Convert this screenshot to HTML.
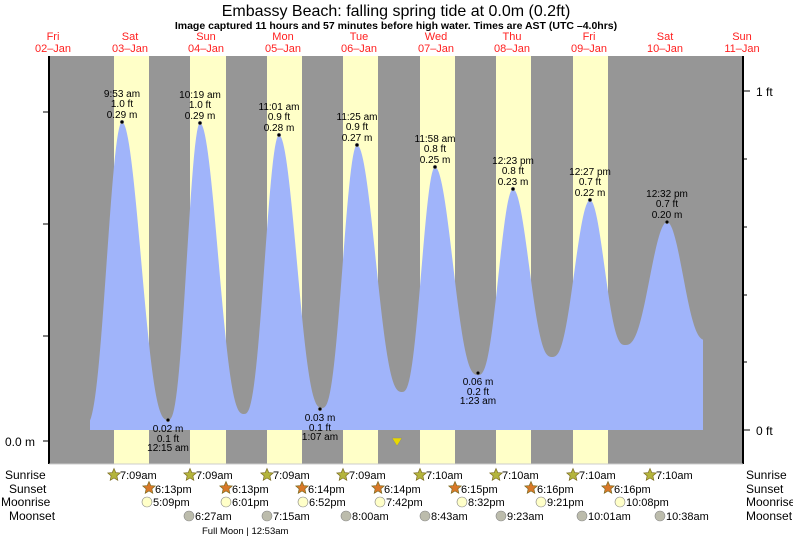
<!DOCTYPE html>
<html><head><meta charset="utf-8"><style>
body{margin:0;background:#fff}
svg{display:block;font-family:"Liberation Sans",sans-serif}
</style></head><body>
<svg id="s" width="793" height="537" viewBox="0 0 793 537">
<rect x="49" y="56" width="694" height="408" fill="#969696"/>
<g fill="#ffffc8">
<rect x="114" y="56" width="35" height="408"/><rect x="190" y="56" width="36" height="408"/>
<rect x="267" y="56" width="35" height="408"/><rect x="343" y="56" width="35" height="408"/>
<rect x="420" y="56" width="35" height="408"/><rect x="496" y="56" width="35" height="408"/>
<rect x="573" y="56" width="35" height="408"/>
</g>
<path id="w" fill="#a0b4fa" d=""/>
<line x1="49" y1="56" x2="49" y2="464" stroke="#000" stroke-width="2"/>
<line x1="743" y1="56" x2="743" y2="464" stroke="#000" stroke-width="2"/>
<line x1="49" y1="464" x2="743" y2="464" stroke="#ccc" stroke-width="1"/>
<line x1="43" y1="441" x2="49" y2="441" stroke="#000"/>
<line x1="43" y1="336" x2="49" y2="336" stroke="#000"/>
<line x1="43" y1="112" x2="49" y2="112" stroke="#000"/>
<line x1="43" y1="224" x2="49" y2="224" stroke="#000"/>
<g stroke="#000"><line x1="743" y1="91" x2="750" y2="91"/><line x1="743" y1="430" x2="750" y2="430"/>
<line x1="743" y1="159" x2="747" y2="159"/><line x1="743" y1="227" x2="747" y2="227"/><line x1="743" y1="295" x2="747" y2="295"/><line x1="743" y1="362" x2="747" y2="362"/></g>
<text x="5" y="446" font-size="12">0.0 m</text>
<text x="756" y="96" font-size="12">1 ft</text>
<text x="756" y="435" font-size="12">0 ft</text>
<text x="396" y="16" font-size="16" text-anchor="middle">Embassy Beach: falling  spring tide at 0.0m (0.2ft)</text>
<text x="396" y="29" font-size="10.5" font-weight="bold" text-anchor="middle">Image captured 11 hours and 57 minutes before high water. Times are AST (UTC –4.0hrs)</text>
<g fill="#ff2020" font-size="11" text-anchor="middle">
<text x="53" y="40">Fri</text><text x="53" y="52">02–Jan</text>
<text x="130" y="40">Sat</text><text x="130" y="52">03–Jan</text>
<text x="206" y="40">Sun</text><text x="206" y="52">04–Jan</text>
<text x="283" y="40">Mon</text><text x="283" y="52">05–Jan</text>
<text x="359" y="40">Tue</text><text x="359" y="52">06–Jan</text>
<text x="436" y="40">Wed</text><text x="436" y="52">07–Jan</text>
<text x="512" y="40">Thu</text><text x="512" y="52">08–Jan</text>
<text x="589" y="40">Fri</text><text x="589" y="52">09–Jan</text>
<text x="665" y="40">Sat</text><text x="665" y="52">10–Jan</text>
<text x="742" y="40">Sun</text><text x="742" y="52">11–Jan</text>
</g>
<g id="lab" font-size="10" text-anchor="middle" fill="#000"></g>
<polygon points="392,438 402,438 397,446" fill="#e8d800" stroke="#888" stroke-width="0.5"/>
<g font-size="12"><text x="5" y="479">Sunrise</text><text x="9" y="493">Sunset</text><text x="1" y="506">Moonrise</text><text x="9" y="520">Moonset</text>
<text x="746" y="479">Sunrise</text><text x="746" y="493">Sunset</text><text x="746" y="506">Moonrise</text><text x="746" y="520">Moonset</text></g>
<g id="ev" font-size="11"></g>
<text x="202" y="534" font-size="9.5">Full Moon | 12:53am</text>
</svg>
<script>
var E=[[85,425],[122,122],[168,420],[200,123],[244,414],[279,135],[322,408],[357,145],[402,392],[435,167],[478,375],[513,189],[552,357],[590,200],[625,345],[667,222],[706,340]];
var d="M90,430";
for(var x=90;x<=703;x++){for(var i=0;i<E.length-1;i++){if(x>=E[i][0]&&x<=E[i+1][0]){var t=(x-E[i][0])/(E[i+1][0]-E[i][0]);var c=(1-Math.cos(Math.PI*t))/2;var up=E[i+1][1]<E[i][1];var h=up?c:1-c;h=Math.pow(h,1.35);var hi=up?E[i+1][1]:E[i][1],lo=up?E[i][1]:E[i+1][1];var y=lo+(hi-lo)*h;d+=" L"+x+","+y.toFixed(1);break;}}}
d+=" L703,430 Z";document.getElementById("w").setAttribute("d",d);
var ns="http://www.w3.org/2000/svg";
function T(g,x,y,s,a){var e=document.createElementNS(ns,"text");e.setAttribute("x",x);e.setAttribute("y",y);if(a)e.setAttribute("text-anchor",a);e.textContent=s;g.appendChild(e);}
function C(g,x,y,r,f){var e=document.createElementNS(ns,"circle");e.setAttribute("cx",x);e.setAttribute("cy",y);e.setAttribute("r",r);e.setAttribute("fill",f);e.setAttribute("stroke","#888");e.setAttribute("stroke-width","0.6");g.appendChild(e);}
var L=document.getElementById("lab");
var H=[[122,122,"9:53 am","1.0 ft","0.29 m"],[200,123,"10:19 am","1.0 ft","0.29 m"],[279,135,"11:01 am","0.9 ft","0.28 m"],[357,145,"11:25 am","0.9 ft","0.27 m"],[435,167,"11:58 am","0.8 ft","0.25 m"],[513,189,"12:23 pm","0.8 ft","0.23 m"],[590,200,"12:27 pm","0.7 ft","0.22 m"],[667,222,"12:32 pm","0.7 ft","0.20 m"]];
H.forEach(function(h){C(L,h[0],h[1],1.8,"#000");T(L,h[0],h[1]-25,h[2]);T(L,h[0],h[1]-15,h[3]);T(L,h[0],h[1]-4,h[4]);});
[[168,420,"0.02 m","0.1 ft","12:15 am"],[320,409,"0.03 m","0.1 ft","1:07 am"],[478,373,"0.06 m","0.2 ft","1:23 am"]].forEach(function(h){C(L,h[0],h[1],1.8,"#000");T(L,h[0],h[1]+12,h[2]);T(L,h[0],h[1]+22,h[3]);T(L,h[0],h[1]+31,h[4]);});
var G=document.getElementById("ev");
function star(x,y,f){var p="";for(var k=0;k<10;k++){var r=k%2?3:6.5,a=-Math.PI/2+k*Math.PI/5;p+=(x+r*Math.cos(a)).toFixed(1)+","+(y+r*Math.sin(a)).toFixed(1)+" ";}var e=document.createElementNS(ns,"polygon");e.setAttribute("points",p);e.setAttribute("fill",f);e.setAttribute("stroke","#7a6a20");e.setAttribute("stroke-width","0.7");G.appendChild(e);}
[114,190,267,343,420,496,573,650].forEach(function(x,i){star(x,475,"#b4b43c");T(G,x+6,479,i<4?"7:09am":"7:10am");});
["6:13pm","6:13pm","6:14pm","6:14pm","6:15pm","6:16pm","6:16pm"].forEach(function(s,i){var x=[149,226,302,378,455,531,608][i];star(x,488,"#d87828");T(G,x+6,493,s);});
["5:09pm","6:01pm","6:52pm","7:42pm","8:32pm","9:21pm","10:08pm"].forEach(function(s,i){var x=[147,226,303,380,462,541,620][i];C(G,x,502,5,"#ffffc8");T(G,x+6,506,s);});
["6:27am","7:15am","8:00am","8:43am","9:23am","10:01am","10:38am"].forEach(function(s,i){var x=[189,267,346,425,501,582,660][i];C(G,x,516,5,"#bcbcac");T(G,x+6,520,s);});
</script>
</body></html>
